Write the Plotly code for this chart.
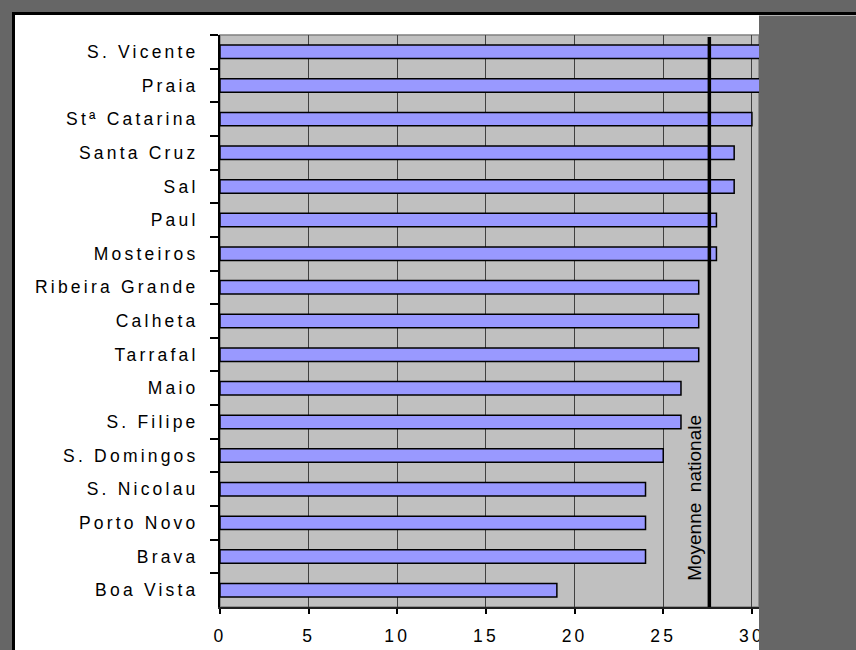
import plotly.graph_objects as go

categories = ["S. Vicente", "Praia", "Stª Catarina", "Santa Cruz", "Sal", "Paul",
              "Mosteiros", "Ribeira Grande", "Calheta", "Tarrafal", "Maio",
              "S. Filipe", "S. Domingos", "S. Nicolau", "Porto Novo", "Brava",
              "Boa Vista"]
values = [31, 31, 30, 29, 29, 28, 28, 27, 27, 27, 26, 26, 25, 24, 24, 24, 19]
national_mean = 27.6
mean_label = "Moyenne  nationale"
x_ticks = [0, 5, 10, 15, 20, 25, 30]

W, H = 856, 650
L, R, T, B = 220, 97, 35, 43
pw, ph = W - L - R, H - T - B

def px(x):
    return (x - L) / pw

def py(y):
    return (H - B - y) / ph

fig = go.Figure()
fig.add_trace(go.Bar(
    y=categories, x=values, orientation="h", width=0.4,
    marker=dict(color="#9999ff", line=dict(color="black", width=1.5)),
))

shapes = [
    # white panel with black frame
    dict(type="rect", xref="paper", yref="paper", x0=px(13.5), x1=px(900), y0=py(13.5), y1=py(700),
         fillcolor="white", line=dict(color="black", width=3), layer="below"),
    # plot area background + border
    dict(type="rect", xref="paper", yref="paper", x0=0, x1=1, y0=0, y1=1,
         fillcolor="#c0c0c0", line=dict(color="#808080", width=1.5), layer="below"),
    # national mean line
    dict(type="line", xref="x", yref="paper", x0=national_mean, x1=national_mean,
         y0=0, y1=py(37), line=dict(color="black", width=3.5), layer="above"),
    # right dark gray area (clipping)
    dict(type="rect", xref="paper", yref="paper", x0=px(759), x1=px(860), y0=py(15.5), y1=py(660),
         fillcolor="#666666", line=dict(width=0), layer="above"),
]

fig.update_layout(
    template="none",
    width=W, height=H,
    margin=dict(l=L, r=R, t=T, b=B, autoexpand=False),
    paper_bgcolor="#666666",
    plot_bgcolor="#c0c0c0",
    showlegend=False,
    bargap=0.6,
    shapes=shapes,
    font=dict(family="Liberation Sans, Arial, sans-serif", size=17.5, color="black"),
    annotations=[dict(
        x=national_mean, xref="x", y=py(583), yref="paper",
        text=mean_label, showarrow=False, textangle=-90,
        xanchor="right", yanchor="bottom", xshift=-3,
        font=dict(family="Liberation Sans, Arial, sans-serif", size=19, color="black"),
    )],
)
fig.update_xaxes(
    range=[0, (759 - 220) / 17.73], tickvals=x_ticks, ticktext=[str(v) for v in x_ticks],
    showgrid=True, gridcolor="#404040", gridwidth=1,
    ticks="outside", ticklen=5, tickcolor="black", tickwidth=1.5,
    showline=True, linecolor="#202020", linewidth=1.5,
    zeroline=False, fixedrange=True, ticklabelstandoff=7, automargin=False,
)
fig.update_yaxes(
    autorange="reversed", type="category", tickson="boundaries",
    ticks="outside", ticklen=8, tickcolor="black", tickwidth=1.5,
    showline=True, linecolor="black", linewidth=2,
    showgrid=False, fixedrange=True, ticklabelstandoff=16, automargin=False,
)

post = """
var st = document.createElement('style');
st.innerHTML = 'html, body { margin: 0; padding: 0; background: #666666; } .xtick text, .ytick text { letter-spacing: 3.2px; }';
document.head.appendChild(st);
"""
fig.write_html("out.html", post_script=post, config={"displayModeBar": False})
